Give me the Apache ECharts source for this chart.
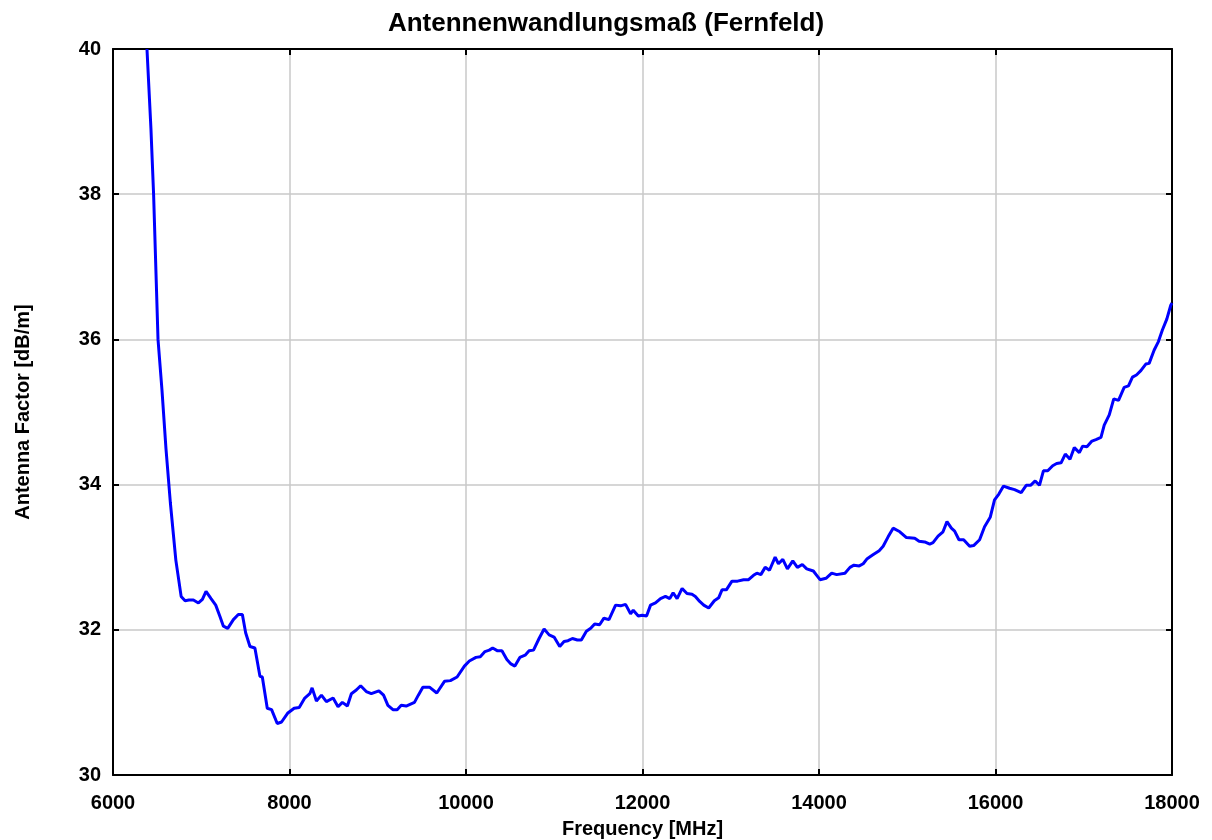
<!DOCTYPE html>
<html>
<head>
<meta charset="utf-8">
<script src="https://cdn.jsdelivr.net/npm/echarts@6/dist/echarts.min.js"></script>
<style>html,body{margin:0;padding:0;background:#fff;}#chart{width:1212px;height:840px;}</style>
</head>
<body>
<div id="chart"></div>
<script>
const titleText = 'Antennenwandlungsmaß (Fernfeld)';
const xAxisName = 'Frequency [MHz]';
const yAxisName = 'Antenna Factor [dB/m]';

const freqMHz = [
  6385, 6430, 6460, 6490, 6510, 6555, 6600, 6650, 6712, 6772, 6817, 6860, 6911, 6968, 7013, 7054, 7111, 7164, 7213, 7251,
  7300, 7364, 7420, 7466, 7503, 7552, 7608, 7665, 7692, 7748, 7797, 7861, 7910, 7978, 8053, 8110, 8173, 8230, 8256, 8305,
  8362, 8418, 8494, 8550, 8599, 8656, 8701, 8757, 8806, 8870, 8927, 9013, 9066, 9115, 9172, 9220, 9266, 9322, 9416, 9460,
  9511, 9586, 9669, 9756, 9823, 9899, 9982, 10038, 10113, 10162, 10215, 10264, 10302, 10358, 10407, 10463, 10509, 10554, 10610, 10670,
  10715, 10765, 10828, 10885, 10942, 10998, 11062, 11111, 11156, 11206, 11262, 11307, 11364, 11413, 11458, 11514, 11563, 11620, 11695, 11752,
  11808, 11865, 11895, 11952, 11997, 12046, 12091, 12147, 12204, 12260, 12309, 12347, 12392, 12449, 12504, 12561, 12599, 12648, 12694, 12750,
  12814, 12863, 12901, 12950, 13014, 13077, 13145, 13202, 13258, 13296, 13341, 13390, 13439, 13503, 13540, 13590, 13642, 13703, 13755, 13811,
  13861, 13936, 13974, 14012, 14079, 14144, 14200, 14294, 14351, 14396, 14456, 14501, 14546, 14607, 14682, 14727, 14783, 14840, 14916, 14991,
  15085, 15134, 15198, 15255, 15292, 15349, 15405, 15450, 15500, 15537, 15586, 15639, 15707, 15752, 15820, 15876, 15940, 15989, 16038, 16091,
  16159, 16216, 16291, 16348, 16397, 16450, 16498, 16543, 16592, 16648, 16693, 16743, 16791, 16844, 16893, 16950, 16987, 17036, 17093, 17138,
  17195, 17232, 17289, 17340, 17394, 17458, 17507, 17552, 17597, 17647, 17703, 17741, 17797, 17846, 17891, 17941, 17986, 18000
];
const antennaFactor = [
  40.0, 38.9, 38.0, 36.8, 36.0, 35.3, 34.5, 33.75, 32.96, 32.46, 32.40, 32.41, 32.41, 32.37, 32.42, 32.53, 32.43, 32.34, 32.18, 32.05,
  32.02, 32.14, 32.21, 32.21, 31.96, 31.77, 31.75, 31.36, 31.35, 30.92, 30.90, 30.71, 30.73, 30.85, 30.92, 30.93, 31.06, 31.12, 31.20, 31.02,
  31.10, 31.01, 31.06, 30.94, 31.00, 30.95, 31.12, 31.17, 31.23, 31.15, 31.12, 31.16, 31.10, 30.96, 30.90, 30.90, 30.96, 30.95, 31.00, 31.10,
  31.21, 31.21, 31.13, 31.29, 31.30, 31.35, 31.50, 31.57, 31.62, 31.63, 31.70, 31.72, 31.75, 31.71, 31.71, 31.59, 31.53, 31.50, 31.62, 31.65,
  31.71, 31.72, 31.88, 32.01, 31.93, 31.90, 31.77, 31.84, 31.85, 31.88, 31.86, 31.86, 31.98, 32.02, 32.08, 32.07, 32.16, 32.14, 32.34, 32.33,
  32.35, 32.22, 32.27, 32.19, 32.20, 32.19, 32.34, 32.37, 32.43, 32.46, 32.43, 32.51, 32.43, 32.57, 32.50, 32.49, 32.46, 32.39, 32.34, 32.30,
  32.40, 32.44, 32.55, 32.55, 32.67, 32.67, 32.69, 32.69, 32.75, 32.78, 32.76, 32.86, 32.82, 33.00, 32.91, 32.97, 32.84, 32.95, 32.86, 32.90,
  32.84, 32.81, 32.75, 32.69, 32.71, 32.78, 32.76, 32.78, 32.86, 32.89, 32.88, 32.91, 32.98, 33.03, 33.09, 33.15, 33.28, 33.40, 33.35, 33.27,
  33.26, 33.22, 33.21, 33.18, 33.20, 33.29, 33.35, 33.49, 33.40, 33.36, 33.24, 33.24, 33.15, 33.16, 33.24, 33.42, 33.55, 33.79, 33.87, 33.98,
  33.95, 33.93, 33.89, 33.99, 33.99, 34.05, 33.99, 34.19, 34.19, 34.26, 34.29, 34.30, 34.42, 34.35, 34.51, 34.44, 34.53, 34.52, 34.60, 34.62,
  34.65, 34.82, 34.96, 35.18, 35.16, 35.34, 35.36, 35.48, 35.51, 35.57, 35.66, 35.67, 35.85, 35.97, 36.13, 36.28, 36.47, 36.50
];

const xMin = 6000, xMax = 18000, xStep = 2000;
const yMin = 30, yMax = 40, yStep = 2;

const chart = echarts.init(document.getElementById('chart'), null, { renderer: 'canvas' });
const font = 'Liberation Sans, Arial, Helvetica, sans-serif';
const seriesData = freqMHz.map((f, i) => [f, antennaFactor[i]]);

const baseX = { type: 'value', min: xMin, max: xMax, interval: xStep };
const baseY = { type: 'value', min: yMin, max: yMax, interval: yStep };

chart.setOption({
  animation: false,
  backgroundColor: '#ffffff',
  title: {
    text: titleText, left: 'center', top: 6,
    textStyle: { fontFamily: font, fontWeight: 'bold', fontSize: 26, color: '#000' }
  },
  grid: { left: 113, right: 40, top: 49, bottom: 65, containLabel: false, outerBoundsMode: 'none' },
  xAxis: [
    Object.assign({}, baseX, {
      position: 'bottom',
      name: xAxisName, nameLocation: 'middle', nameGap: 44,
      nameTextStyle: { fontFamily: font, fontWeight: 'bold', fontSize: 20, color: '#000' },
      axisLine: { show: true, lineStyle: { color: '#000', width: 2 } },
      axisTick: { show: true, inside: true, length: 6, lineStyle: { color: '#000', width: 2 } },
      axisLabel: { fontFamily: font, fontWeight: 'bold', fontSize: 20, color: '#000', margin: 18,
        formatter: v => String(v) },
      splitLine: { show: true, lineStyle: { color: '#c8c8c8', width: 1.5 } }
    }),
    Object.assign({}, baseX, {
      position: 'top',
      axisLine: { show: true, lineStyle: { color: '#000', width: 2 } },
      axisTick: { show: true, inside: true, length: 6, lineStyle: { color: '#000', width: 2 } },
      axisLabel: { show: false },
      splitLine: { show: false }
    })
  ],
  yAxis: [
    Object.assign({}, baseY, {
      position: 'left',
      name: yAxisName, nameLocation: 'middle', nameGap: 80, nameRotate: 90,
      nameTextStyle: { fontFamily: font, fontWeight: 'bold', fontSize: 20, color: '#000' },
      axisLine: { show: true, lineStyle: { color: '#000', width: 2 } },
      axisTick: { show: true, inside: true, length: 6, lineStyle: { color: '#000', width: 2 } },
      axisLabel: { fontFamily: font, fontWeight: 'bold', fontSize: 20, color: '#000', margin: 12,
        formatter: v => String(v) },
      splitLine: { show: true, lineStyle: { color: '#c8c8c8', width: 1.5 } }
    }),
    Object.assign({}, baseY, {
      position: 'right',
      axisLine: { show: true, lineStyle: { color: '#000', width: 2 } },
      axisTick: { show: true, inside: true, length: 6, lineStyle: { color: '#000', width: 2 } },
      axisLabel: { show: false },
      splitLine: { show: false }
    })
  ],
  series: [{
    type: 'line',
    xAxisIndex: 0, yAxisIndex: 0,
    data: seriesData,
    showSymbol: false,
    symbol: 'none',
    clip: true,
    lineStyle: { color: '#0000ff', width: 3 },
    z: 5
  }]
});
</script>
</body>
</html>
